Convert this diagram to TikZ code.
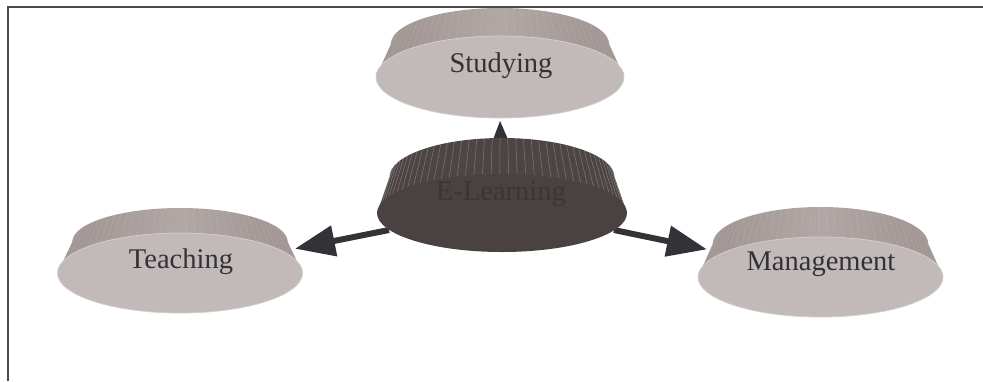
\documentclass[tikz,border=0pt]{standalone}
\usepackage{fontspec}
\setmainfont{Liberation Serif}
\usetikzlibrary{shapes.geometric,arrows.meta}

\definecolor{faceLight}{HTML}{C2BAB9}
\definecolor{rimLight}{HTML}{D3CDCC}
\definecolor{bandLight}{HTML}{B1A7A5}
\definecolor{bandLightEdge}{HTML}{9D9290}
\definecolor{faceDark}{HTML}{4A4241}
\definecolor{bandDark}{HTML}{4D4544}
\definecolor{inkDark}{HTML}{333236}
\definecolor{inkOnDark}{HTML}{3B3536}
\definecolor{frameGray}{HTML}{4A4A4A}

\tikzset{
  facelight/.style={ellipse, inner sep=0pt, fill=faceLight, draw=rimLight, line width=0.8pt},
  facedark/.style={ellipse, inner sep=0pt, fill=faceDark},
  bandlight/.style={left color=bandLightEdge, right color=bandLightEdge, middle color=bandLight},
  banddark/.style={fill=bandDark},
  streaklight/.style={draw=white, draw opacity=0.12, line width=0.5pt},
  streakdark/.style={draw=white, draw opacity=0.28, line width=0.5pt},
  lbl/.style={inner sep=0pt, anchor=base, text=inkDark, font=\fontsize{28.5}{30}\selectfont},
  lbldark/.style={lbl, text=inkOnDark},
  conn/.style={draw=inkDark, line width=6pt, -{Triangle[length=40pt,width=30pt]}},
  frameline/.style={draw=frameGray, line width=2pt}
}

% Side band of a disc: the frustum wall seen above the face.
% #1 cx, #2 cy, #3 face rx, #4 face ry, #5 top offset, #6 top ry,
% #7 top/face width ratio, #8 fill style, #9 streak style
\newcommand\discband[9]{%
  \pgfmathsetmacro\bandux{#7*#3}%
  \def\bandpath{(#1+#3,#2) -- (#1+\bandux,#2-#5)
    arc[start angle=0, end angle=-180, x radius=\bandux, y radius=#6]
    -- (#1-#3,#2) -- cycle}%
  \path[#8] \bandpath;
  \begin{scope}
    \clip \bandpath;
    \foreach \a in {3,7,...,179}
      \draw[#9] ({#1+\bandux*cos(\a)},{#2-#5-#6*sin(\a)})
             -- ({#1+#3*cos(\a)},{#2-#4*sin(\a)});
  \end{scope}%
}

\begin{document}
\begin{tikzpicture}[x=1pt, y=-1pt]
  \useasboundingbox (0,0) rectangle (983,381);

  % outer discs
  \discband{500}{77}{124}{41}{33}{36}{0.88}{bandlight}{streaklight}
  \node[facelight, minimum width=248pt, minimum height=82pt] (st) at (500,77) {};
  \node[lbl] (st-txt) at (501,72) {Studying};

  \discband{180}{273}{122.5}{40}{31}{34}{0.88}{bandlight}{streaklight}
  \node[facelight, minimum width=245pt, minimum height=80pt] (tea) at (180,273) {};
  \node[lbl] (tea-txt) at (181,268) {Teaching};

  \discband{820.5}{277}{122.5}{40}{33}{37}{0.88}{bandlight}{streaklight}
  \node[facelight, minimum width=245pt, minimum height=80pt] (man) at (820.5,277) {};
  \node[lbl] (man-txt) at (821,270) {Management};

  % connectors from the hub
  \coordinate (hub) at (502,213);
  \draw[conn, shorten >=2pt] (hub) -- (st.south);
  \draw[conn, shorten >=12pt] ([shift={(-113,17)}]hub) -- (tea.12);
  \draw[conn, shorten >=16pt] ([shift={(112,17)}]hub) -- (man.166);

  % central disc
  \discband{502}{213}{125}{39}{36}{39}{0.9}{banddark}{streakdark}
  \node[facedark, minimum width=250pt, minimum height=78pt] (el) at (hub) {};
  \node[lbldark] (el-txt) at (501,200) {E-Learning};

  % frame
  \coordinate (fbl) at (8,381);
  \coordinate (ftl) at (8,7);
  \coordinate (ftr) at (983,7);
  \draw[frameline] (fbl) -- (ftl) -- (ftr);
\end{tikzpicture}
\end{document}
